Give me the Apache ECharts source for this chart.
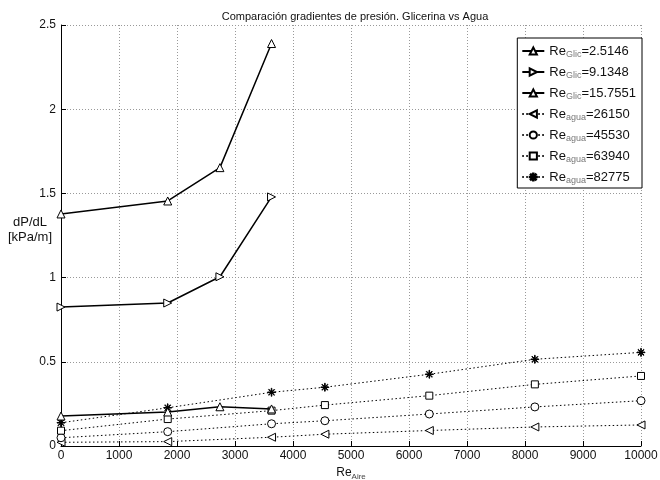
<!DOCTYPE html>
<html>
<head>
<meta charset="utf-8">
<script src="https://cdn.jsdelivr.net/npm/echarts@6/dist/echarts.min.js"></script>
<style>
  html, body { margin: 0; padding: 0; background: #fff; }
  #chart { width: 660px; height: 480px; }
</style>
</head>
<body>
<div id="chart"></div>
<script>
// datos
var xGlic = [0, 1840, 2740, 3630];
var glic1 = [0.178, 0.202, 0.233, 0.22];
var glic2 = [0.825, 0.849, 1.005, 1.479];
var glic3 = [1.378, 1.455, 1.653, 2.39];

var xAgua = [0, 1840, 3630, 4550, 6350, 8170, 10000];
var agua1 = [0.022, 0.026, 0.052, 0.07, 0.092, 0.113, 0.125];
var agua2 = [0.049, 0.085, 0.132, 0.15, 0.19, 0.232, 0.269];
var agua3 = [0.091, 0.16, 0.21, 0.243, 0.299, 0.366, 0.416];
var agua4 = [0.138, 0.227, 0.319, 0.349, 0.426, 0.515, 0.556];

var legendSub = ['Glic', 'Glic', 'Glic', 'agua', 'agua', 'agua', 'agua'];
var legendVal = ['2.5146', '9.1348', '15.7551', '26150', '45530', '63940', '82775'];

var FONT = 'Liberation Sans, Arial, sans-serif';

// asterisco (marcador *)
var star = 'path://M-0.7,-10L0.7,-10L0.7,10L-0.7,10Z M-10,-0.7L10,-0.7L10,0.7L-10,0.7Z' +
  ' M-7.6,-6.6L-6.6,-7.6L7.6,6.6L6.6,7.6Z M6.6,-7.6L7.6,-6.6L-6.6,7.6L-7.6,6.6Z';

function pares(xs, ys){
  return ys.map(function(y, i){ return [xs[i], y]; });
}

function serie(idx, xs, ys, symbol, rot, size, solid){
  return {
    name: 'Re_' + legendSub[idx] + '=' + legendVal[idx],
    type: 'line',
    data: pares(xs, ys),
    symbol: symbol,
    symbolRotate: rot,
    symbolSize: size,
    showAllSymbol: true,
    lineStyle: solid ? {color: '#000', width: 1.5, type: 'solid'} : {color: '#000', width: 1, type: [1.5, 2.5]},
    itemStyle: {color: symbol === star ? '#000' : '#fff', borderColor: '#000', borderWidth: 1},
    z: solid ? 3 : 2
  };
}

var series = [
  serie(0, xGlic, glic1, 'triangle', 0, 8, true),
  serie(1, xGlic, glic2, 'triangle', -90, 8, true),
  serie(2, xGlic, glic3, 'triangle', 0, 8, true),
  serie(3, xAgua, agua1, 'triangle', 90, 8, false),
  serie(4, xAgua, agua2, 'circle', 0, 8, false),
  serie(5, xAgua, agua3, 'rect', 0, 7, false),
  serie(6, xAgua, agua4, star, 0, 8, false)
];

var chart = echarts.init(document.getElementById('chart'));
var option = {
  backgroundColor: '#fff',
  animation: false,
  title: {
    text: 'Comparación gradientes de presión. Glicerina vs Agua',
    left: 350, top: 6, textAlign: 'center',
    textStyle: {fontFamily: FONT, fontSize: 11, fontWeight: 'normal', color: '#111'}
  },
  // etiqueta del eje y, horizontal como en matlab
  graphic: [{
    type: 'text', x: 30, y: 215,
    style: {text: 'dP/dL\n[kPa/m]', font: '13px ' + FONT, fill: '#111', align: 'center', lineHeight: 15}
  }],
  grid: {left: 61, right: 19, top: 25, bottom: 34, outerBoundsMode: 'none'},
  legend: {
    orient: 'vertical', right: 18, top: 38,
    backgroundColor: '#fff', borderColor: '#000', borderWidth: 1, borderRadius: 0,
    padding: [3, 6, 3, 4], itemGap: 3, itemWidth: 22, itemHeight: 9,
    data: series.map(function(s){ return s.name; }),
    formatter: function(name){
      var p = name.split('_')[1].split('=');
      return '{a|Re}{s|' + p[0] + '}{a|=' + p[1] + '}';
    },
    textStyle: {
      fontFamily: FONT, color: '#111',
      rich: {
        a: {fontSize: 13, fontFamily: FONT, color: '#111', lineHeight: 16},
        s: {fontSize: 9, fontFamily: FONT, color: '#777', lineHeight: 16, verticalAlign: 'bottom', padding: [9, 0, 0, 0]}
      }
    }
  },
  xAxis: {
    type: 'value', min: 0, max: 10000, interval: 1000,
    name: '{a|Re}{s|Aire}', nameLocation: 'middle', nameGap: 10,
    nameTextStyle: {
      rich: {
        a: {fontSize: 12, fontFamily: FONT, color: '#111'},
        s: {fontSize: 8, fontFamily: FONT, color: '#444', padding: [8, 0, 0, 0]}
      }
    },
    axisLine: {onZero: false, lineStyle: {color: '#000', width: 1}},
    axisTick: {inside: true, length: 5, lineStyle: {color: '#000'}},
    axisLabel: {fontFamily: FONT, fontSize: 12, color: '#111', margin: 4,
      formatter: function(v){ return String(v); }},
    splitLine: {show: true, lineStyle: {color: '#999', type: [1, 2], width: 1}}
  },
  yAxis: {
    type: 'value', min: 0, max: 2.5, interval: 0.5,
    axisLine: {show: true, lineStyle: {color: '#000', width: 1}},
    axisTick: {show: true, inside: true, length: 5, lineStyle: {color: '#000'}},
    axisLabel: {fontFamily: FONT, fontSize: 12, color: '#111', margin: 5},
    splitLine: {show: true, lineStyle: {color: '#999', type: [1, 2], width: 1}}
  },
  series: series
};
chart.setOption(option);
</script>
</body>
</html>
